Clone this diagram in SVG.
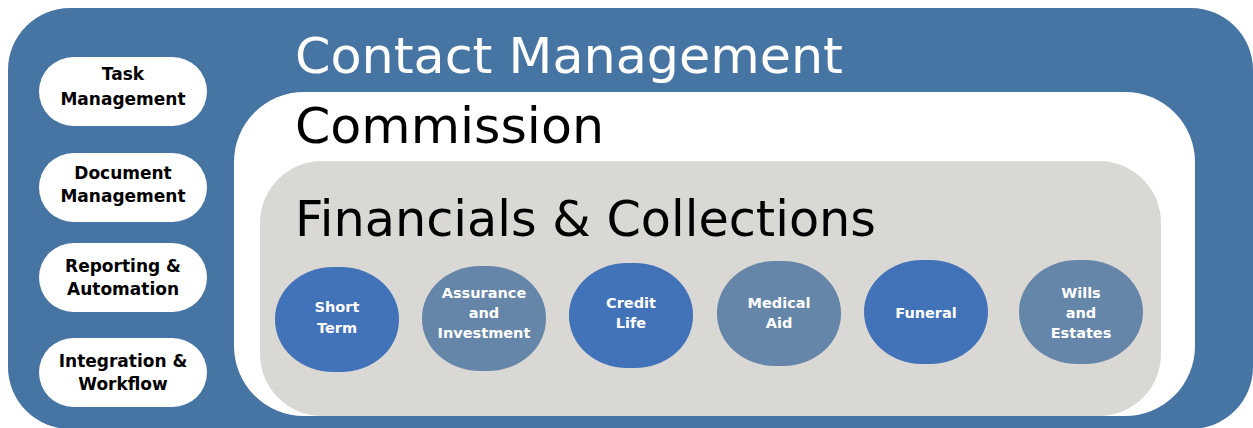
<svg xmlns="http://www.w3.org/2000/svg" width="1253" height="428" viewBox="0 0 1253 428">
<style>
.title{font-family:"DejaVu Sans","Liberation Sans",sans-serif;font-size:50px}
.pill{fill:#ffffff}
.pt{font-family:"DejaVu Sans","Liberation Sans",sans-serif;font-weight:bold;font-size:17px;fill:#000;text-anchor:middle}
.ct{font-family:"DejaVu Sans","Liberation Sans",sans-serif;font-weight:bold;font-size:14.5px;fill:#ffffff;text-anchor:middle}
.b1{fill:#4272b8}
.b2{fill:#6586a9}
</style>
<g id="contact-management">
<rect x="8" y="8" width="1245" height="421" rx="62" ry="62" fill="#4674a3"/>
<text class="title" x="295" y="73" fill="#ffffff" textLength="548" lengthAdjust="spacingAndGlyphs">Contact Management</text>
</g>
<g id="commission">
<rect x="234" y="92" width="961" height="324" rx="70" ry="70" fill="#ffffff"/>
<text class="title" x="295" y="143" fill="#000000" textLength="309" lengthAdjust="spacingAndGlyphs">Commission</text>
</g>
<g id="financials">
<rect x="260" y="161" width="901" height="255" rx="62" ry="62" fill="#d9d8d4"/>
<text class="title" x="295" y="236" fill="#000000" textLength="581" lengthAdjust="spacingAndGlyphs">Financials &amp; Collections</text>
</g>
<g id="task-management">
<rect class="pill" x="39" y="57" width="168" height="69" rx="34.5"/>
<text class="pt" x="123" y="80">Task</text>
<text class="pt" x="123" y="105">Management</text>
</g>
<g id="document-management">
<rect class="pill" x="39" y="153" width="168" height="69" rx="34.5"/>
<text class="pt" x="123" y="179">Document</text>
<text class="pt" x="123" y="202">Management</text>
</g>
<g id="reporting-automation">
<rect class="pill" x="39" y="243" width="168" height="69" rx="34.5"/>
<text class="pt" x="123" y="272">Reporting &amp;</text>
<text class="pt" x="123" y="295">Automation</text>
</g>
<g id="integration-workflow">
<rect class="pill" x="39" y="338" width="168" height="69" rx="34.5"/>
<text class="pt" x="123" y="367">Integration &amp;</text>
<text class="pt" x="123" y="390">Workflow</text>
</g>
<g id="short-term">
<rect class="b1" x="275" y="267" width="124" height="105" rx="58" ry="52"/>
<text class="ct" x="337" y="312">Short</text>
<text class="ct" x="337" y="333">Term</text>
</g>
<g id="assurance-investment">
<rect class="b2" x="422" y="266" width="124" height="105" rx="58" ry="52"/>
<text class="ct" x="484" y="298">Assurance</text>
<text class="ct" x="484" y="318">and</text>
<text class="ct" x="484" y="338">Investment</text>
</g>
<g id="credit-life">
<rect class="b1" x="569" y="263" width="124" height="105" rx="58" ry="52"/>
<text class="ct" x="631" y="308">Credit</text>
<text class="ct" x="631" y="328">Life</text>
</g>
<g id="medical-aid">
<rect class="b2" x="717" y="261" width="124" height="105" rx="58" ry="52"/>
<text class="ct" x="779" y="308">Medical</text>
<text class="ct" x="779" y="328">Aid</text>
</g>
<g id="funeral">
<rect class="b1" x="864" y="260" width="124" height="104" rx="58" ry="52"/>
<text class="ct" x="926" y="318">Funeral</text>
</g>
<g id="wills-estates">
<rect class="b2" x="1019" y="260" width="124" height="104" rx="58" ry="52"/>
<text class="ct" x="1081" y="298">Wills</text>
<text class="ct" x="1081" y="318">and</text>
<text class="ct" x="1081" y="338">Estates</text>
</g>
<g id="connectors"></g>
</svg>
